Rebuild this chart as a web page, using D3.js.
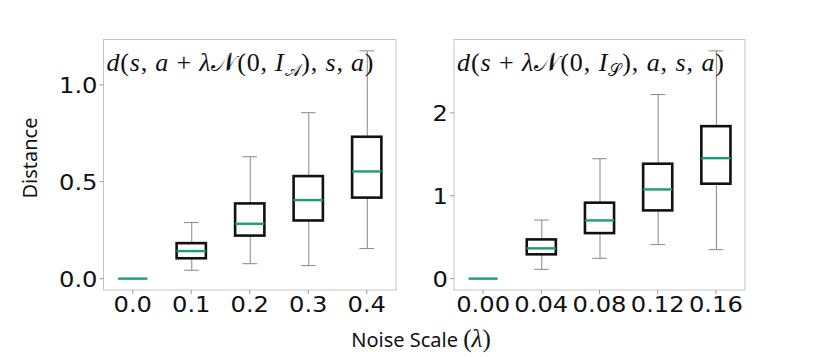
<!DOCTYPE html>
<html>
<head>
<meta charset="utf-8">
<script src="https://cdn.jsdelivr.net/npm/d3@7"></script>
<style>
  body { margin: 0; background: #fff; }
  svg { display: block; }
</style>
</head>
<body>
<div id="chart"></div>
<script>
// left panel: action noise
var leftCats = ['0.0', '0.1', '0.2', '0.3', '0.4']
var leftLow = [0, 0.043, 0.077, 0.067, 0.155]
var leftQ1 = [0, 0.105, 0.222, 0.300, 0.418]
var leftMed = [0, 0.142, 0.283, 0.405, 0.553]
var leftQ3 = [0, 0.183, 0.388, 0.529, 0.732]
var leftHigh = [0, 0.289, 0.629, 0.856, 1.175]
var leftTicks = [0, 0.5, 1.0]

// right panel: state noise
var rightCats = ['0.00', '0.04', '0.08', '0.12', '0.16']
var rightLow = [0, 0.112, 0.245, 0.410, 0.349]
var rightQ1 = [0, 0.293, 0.549, 0.823, 1.145]
var rightMed = [0, 0.365, 0.702, 1.076, 1.453]
var rightQ3 = [0, 0.473, 0.916, 1.386, 1.839]
var rightHigh = [0, 0.706, 1.446, 2.220, 2.747]
var rightTicks = [0, 1, 2]

var W = 830, H = 357
var svg = d3.select('#chart').append('svg')
  .attr('width', W).attr('height', H)
svg.append('rect').attr('width', W).attr('height', H).attr('fill', '#fff')

var plotTop = 39.5, plotBottom = 290
var green = '#1b9e77'
var tickFont = 'DejaVu Sans'
var stretch = 1.1 // tick labels in the picture are a bit wide

function tickLabel(g, px, py, anchor, txt) {
  g.append('text')
    .attr('transform', 'translate(' + px + ',' + py + ') scale(' + stretch + ',1)')
    .attr('text-anchor', anchor)
    .attr('font-family', tickFont).attr('font-size', 22)
    .attr('fill', '#111')
    .text(txt)
}

function drawPanel(left, right, cats, low, q1, med, q3, high, ticks, fmt, title) {
  var g = svg.append('g')
  var rows = cats.map(function(c, i) {
    return { cat: c, low: low[i], q1: q1[i], med: med[i], q3: q3[i], high: high[i] }
  })
  var ymax = d3.max(high), ymin = d3.min(low)
  var pad = (ymax - ymin) * 0.05
  var y = d3.scaleLinear().domain([ymin - pad, ymax + pad]).range([plotBottom, plotTop])
  // positions 1..n, xlim 0.5..n+0.5
  var x = d3.scaleLinear().domain([0.5, cats.length + 0.5]).range([left, right])
  var bw = x(1.25) - x(1)

  // frame
  g.append('rect')
    .attr('x', left).attr('y', plotTop)
    .attr('width', right - left).attr('height', plotBottom - plotTop)
    .attr('fill', 'none').attr('stroke', '#c4c4c4').attr('stroke-width', 1)

  // y axis
  ticks.forEach(function(t) {
    g.append('line')
      .attr('x1', left - 4).attr('x2', left)
      .attr('y1', y(t)).attr('y2', y(t))
      .attr('stroke', '#999').attr('stroke-width', 1)
    tickLabel(g, left - 6, y(t) + 8, 'end', fmt(t))
  })

  // x axis
  rows.forEach(function(d, i) {
    var cx = x(i + 1)
    g.append('line')
      .attr('x1', cx).attr('x2', cx)
      .attr('y1', plotBottom).attr('y2', plotBottom + 4)
      .attr('stroke', '#999').attr('stroke-width', 1)
    tickLabel(g, cx, plotBottom + 22, 'middle', d.cat)
  })

  var box = g.selectAll('g.box').data(rows).enter().append('g').attr('class', 'box')
    .attr('transform', function(d, i) { return 'translate(' + x(i + 1) + ',0)' })

  // whiskers
  box.append('line')
    .attr('x1', 0.5).attr('x2', 0.5)
    .attr('y1', function(d) { return y(d.q3) }).attr('y2', function(d) { return y(d.high) })
    .attr('stroke', '#888').attr('stroke-width', 1)
  box.append('line')
    .attr('x1', 0.5).attr('x2', 0.5)
    .attr('y1', function(d) { return y(d.q1) }).attr('y2', function(d) { return y(d.low) })
    .attr('stroke', '#888').attr('stroke-width', 1)
  // caps
  box.append('line')
    .attr('x1', -bw / 2).attr('x2', bw / 2)
    .attr('y1', function(d) { return y(d.high) }).attr('y2', function(d) { return y(d.high) })
    .attr('stroke', '#888').attr('stroke-width', 1)
  box.append('line')
    .attr('x1', -bw / 2).attr('x2', bw / 2)
    .attr('y1', function(d) { return y(d.low) }).attr('y2', function(d) { return y(d.low) })
    .attr('stroke', '#888').attr('stroke-width', 1)
  // boxes
  box.append('rect')
    .attr('x', -bw).attr('width', bw * 2)
    .attr('y', function(d) { return y(d.q3) })
    .attr('height', function(d) { return y(d.q1) - y(d.q3) })
    .attr('fill', 'none').attr('stroke', '#111').attr('stroke-width', 2.6)
  // medians
  box.append('line')
    .attr('x1', -bw).attr('x2', bw)
    .attr('y1', function(d) { return y(d.med) }).attr('y2', function(d) { return y(d.med) })
    .attr('stroke', green).attr('stroke-width', 2.4)

  // title (math)
  var t = g.append('text')
    .attr('x', left + 3).attr('y', plotTop + 31)
    .attr('font-family', 'Liberation Serif').attr('font-size', 26)
    .attr('textLength', 267).attr('lengthAdjust', 'spacing')
    .attr('fill', '#111')
  title.forEach(function(s) {
    var sp = t.append('tspan').text(s[0])
      .attr('font-style', s[1] ? 'italic' : 'normal')
    if (s[2]) sp.attr('font-size', 17).attr('dy', 5)
    if (s[3]) sp.attr('dy', -5)
  })
}

var titleA = [['d', 1], ['(', 0], ['s', 1], [', ', 0], ['a', 1], [' + ', 0], ['\u03bb', 1], ['\ud835\udca9', 0], ['(0, ', 0], ['I', 1], ['\ud835\udc9c', 0, 1], ['), ', 0, 0, 1], ['s', 1], [', ', 0], ['a', 1], [')', 0]]
var titleS = [['d', 1], ['(', 0], ['s', 1], [' + ', 0], ['\u03bb', 1], ['\ud835\udca9', 0], ['(0, ', 0], ['I', 1], ['\ud835\udcae', 0, 1], ['), ', 0, 0, 1], ['a', 1], [', ', 0], ['s', 1], [', ', 0], ['a', 1], [')', 0]]

drawPanel(103.5, 396, leftCats, leftLow, leftQ1, leftMed, leftQ3, leftHigh, leftTicks, d3.format('.1f'), titleA)
drawPanel(454, 745, rightCats, rightLow, rightQ1, rightMed, rightQ3, rightHigh, rightTicks, d3.format('d'), titleS)

// axis labels
svg.append('text')
  .attr('transform', 'translate(37,158) rotate(-90)')
  .attr('text-anchor', 'middle')
  .attr('font-family', 'Noto Sans').attr('font-size', 20)
  .attr('fill', '#111')
  .text('Distance')

var xl = svg.append('text')
  .attr('x', 421).attr('y', 347)
  .attr('text-anchor', 'middle')
  .attr('font-family', 'Noto Sans').attr('font-size', 20)
  .attr('fill', '#111')
xl.append('tspan').text('Noise Scale ')
xl.append('tspan').attr('font-family', 'Liberation Serif').attr('font-size', 25).text('(')
xl.append('tspan').attr('font-family', 'Liberation Serif').attr('font-size', 25).attr('font-style', 'italic').text('\u03bb')
xl.append('tspan').attr('font-family', 'Liberation Serif').attr('font-size', 25).text(')')
</script>
</body>
</html>
